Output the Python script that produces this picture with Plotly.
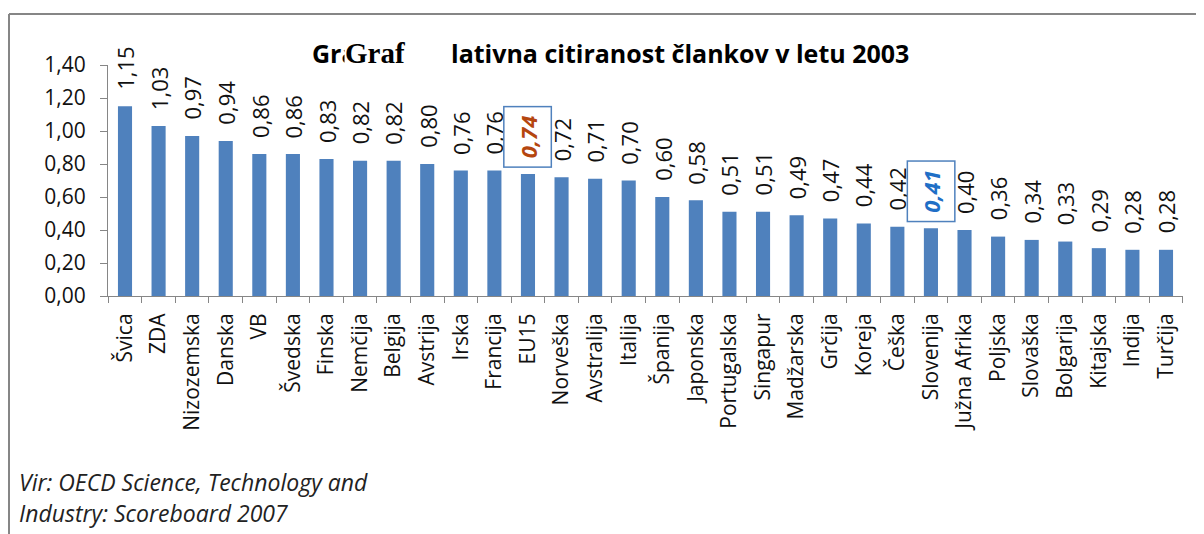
import plotly.graph_objects as go

drzave = [
    "Švica", "ZDA", "Nizozemska", "Danska", "VB", "Švedska", "Finska",
    "Nemčija", "Belgija", "Avstrija", "Irska", "Francija", "EU15",
    "Norveška", "Avstralija", "Italija", "Španija", "Japonska",
    "Portugalska", "Singapur", "Madžarska", "Grčija", "Koreja", "Češka",
    "Slovenija", "Južna Afrika", "Poljska", "Slovaška", "Bolgarija",
    "Kitajska", "Indija", "Turčija"
]
citiranost = [
    1.15, 1.03, 0.97, 0.94, 0.86, 0.86, 0.83, 0.82, 0.82, 0.80, 0.76,
    0.76, 0.74, 0.72, 0.71, 0.70, 0.60, 0.58, 0.51, 0.51, 0.49, 0.47,
    0.44, 0.42, 0.41, 0.40, 0.36, 0.34, 0.33, 0.29, 0.28, 0.28
]
y_ticks = [0, 0.2, 0.4, 0.6, 0.8, 1.0, 1.2, 1.4]
poudarjeno = {"EU15": "#B5460F", "Slovenija": "#1F6FC6"}

FONT = "Open Sans"
SIVA = "#868686"

fig = go.Figure()

fig.add_trace(go.Bar(
    x=drzave,
    y=citiranost,
    marker=dict(color="#4F81BD", line=dict(width=0)),
    hoverinfo="x+y"
))

# oznake vrednosti nad stolpci
for d, v in zip(drzave, citiranost):
    besedilo = f"{v:.2f}".replace(".", ",")
    if d in poudarjeno:
        fig.add_annotation(
            x=d, y=v, text=f"<b><i>{besedilo}</i></b>",
            textangle=-90, showarrow=False, yanchor="bottom", yshift=6,
            font=dict(family=FONT, size=22, color=poudarjeno[d]),
            bordercolor="#4F81BD", borderwidth=1.5, borderpad=8,
            bgcolor="white"
        )
    else:
        fig.add_annotation(
            x=d, y=v, text=besedilo,
            textangle=-90, showarrow=False, yanchor="bottom", yshift=14,
            font=dict(family=FONT, size=22, color="#111111")
        )

# naslov (z prekrito pisavo kot v izvirniku)
fig.add_annotation(
    xref="paper", yref="paper", x=0.1879, y=1.052,
    xanchor="left", yanchor="middle", showarrow=False,
    text="<b>Gra</b>", font=dict(family=FONT, size=25, color="black")
)
fig.add_annotation(
    xref="paper", yref="paper", x=0.2195, y=1.052,
    xanchor="left", yanchor="middle", showarrow=False,
    text="<b>Graf</b>", bgcolor="white", borderpad=0,
    font=dict(family="Liberation Serif", size=29, color="black")
)
fig.add_annotation(
    xref="paper", yref="paper", x=0.3172, y=1.052,
    xanchor="left", yanchor="middle", showarrow=False,
    text="<b>lativna citiranost člankov v letu 2003</b>",
    font=dict(family=FONT, size=25, color="black")
)

# vir
fig.add_annotation(
    xref="paper", yref="paper", x=-0.0847, y=-0.805,
    xanchor="left", yanchor="middle", showarrow=False,
    text="<i>Vir: OECD Science, Technology and</i>",
    font=dict(family=FONT, size=23, color="#222222")
)
fig.add_annotation(
    xref="paper", yref="paper", x=-0.0847, y=-0.938,
    xanchor="left", yanchor="middle", showarrow=False,
    text="<i>Industry: Scoreboard 2007</i>",
    font=dict(family=FONT, size=23, color="#222222")
)

# okvir
fig.add_shape(type="line", xref="paper", yref="paper",
              x0=-0.0921, y0=1.2208, x1=1.05, y1=1.2208,
              line=dict(color=SIVA, width=2))
fig.add_shape(type="line", xref="paper", yref="paper",
              x0=-0.0921, y0=1.2208, x1=-0.0921, y1=-1.1,
              line=dict(color=SIVA, width=2))

# stran ima 8 px roba, zato je slika za toliko manjsa
fig.update_layout(
    width=1196,
    height=526,
    margin=dict(l=100, r=21, t=57, b=238),
    paper_bgcolor="white",
    plot_bgcolor="white",
    separators=",.",
    bargap=0.58,
    showlegend=False,
    font=dict(family=FONT, size=21, color="#111111")
)

fig.update_xaxes(
    showline=True, linecolor=SIVA, linewidth=1,
    ticks="outside", ticklen=6, tickcolor=SIVA, tickson="boundaries",
    tickangle=-90, ticklabelstandoff=8,
    tickfont=dict(family=FONT, size=21, color="#111111"),
    showgrid=False
)
fig.update_yaxes(
    range=[0, 1.4], tickvals=y_ticks, tickformat=".2f",
    showline=True, linecolor=SIVA, linewidth=1,
    ticks="outside", ticklen=7, tickcolor=SIVA, ticklabelstandoff=10,
    tickfont=dict(family=FONT, size=21, color="#111111"),
    showgrid=False, zeroline=False
)

fig.write_html("out.html")
